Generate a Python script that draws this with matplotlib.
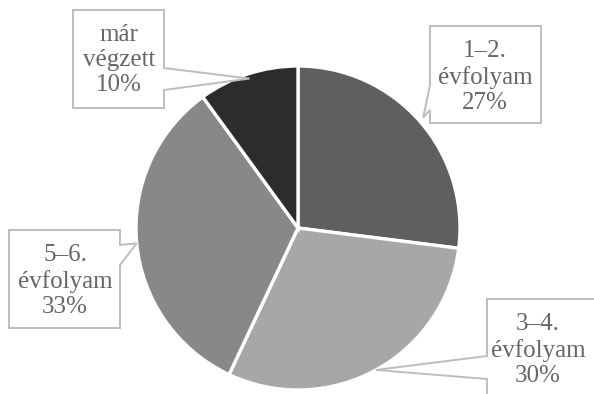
import numpy as np
import matplotlib
matplotlib.use("Agg")
import matplotlib.pyplot as plt
from matplotlib.patches import Polygon

# Share of students by year group
labels = ["1–2.\névfolyam", "3–4.\névfolyam", "5–6.\névfolyam", "már\nvégzett"]
shares = [27, 30, 33, 10]
colors = ["#5f5f5f", "#a7a7a7", "#888888", "#2c2c2c"]

W, H = 594, 394
fig = plt.figure(figsize=(W / 100, H / 100), dpi=100)
ax = fig.add_axes([0, 0, 1, 1])

cx, cy, r = 298, H - 228, 162
wedges, _ = ax.pie(shares, colors=colors, startangle=90, counterclock=False,
                   center=(cx, cy), radius=r,
                   wedgeprops=dict(edgecolor="white", linewidth=2.4))
ax.set_xlim(0, W)
ax.set_ylim(0, H)
ax.set_aspect("equal")
ax.axis("off")

# Callout boxes (top-down coordinates: left, top, right, bottom),
# the edge the pointer leaves from, the span of the pointer base along it,
# and where the text block is centred
boxes = [
    dict(rect=(430, 26, 541, 123), side="left", base=(85, 110), tipr=1.03, text=(485, 77)),
    dict(rect=(487, 299, 620, 420), side="left", base=(356, 379), tipr=1.0, text=(538, 350)),
    dict(rect=(9, 230, 120, 328), side="right", base=(245, 265), tipr=1.0, text=(65, 281)),
    dict(rect=(73, 10, 164, 108), side="right", base=(68, 90), tipr=0.97, text=(119, 60)),
]

angles = []
start = 90.0
for s in shares:
    span = 360 * s / sum(shares)
    angles.append(start - span / 2)
    start -= span

for lab, s, ang, b in zip(labels, shares, angles, boxes):
    l, t, rgt, btm = b["rect"]
    tx = cx + b["tipr"] * r * np.cos(np.radians(ang))
    ty = cy + b["tipr"] * r * np.sin(np.radians(ang))
    b0, b1 = b["base"]
    if b["side"] == "left":
        pts = [(l, t), (rgt, t), (rgt, btm), (l, btm), (l, b1), (tx, H - ty), (l, b0)]
    else:
        pts = [(l, t), (rgt, t), (rgt, b0), (tx, H - ty), (rgt, b1), (rgt, btm), (l, btm)]
    pts = [(x, H - y) for x, y in pts]
    ax.add_patch(Polygon(pts, closed=True, facecolor="white", edgecolor="#bdbdbd",
                         linewidth=1.4, zorder=5))
    text_x, text_y = b["text"]
    ax.text(text_x, H - text_y, f"{lab}\n{s}%", ha="center", va="center",
            fontsize=18, family="Liberation Serif", color="#666666",
            linespacing=1.18, zorder=6)

fig.savefig("out.png", dpi=100, facecolor="white")
